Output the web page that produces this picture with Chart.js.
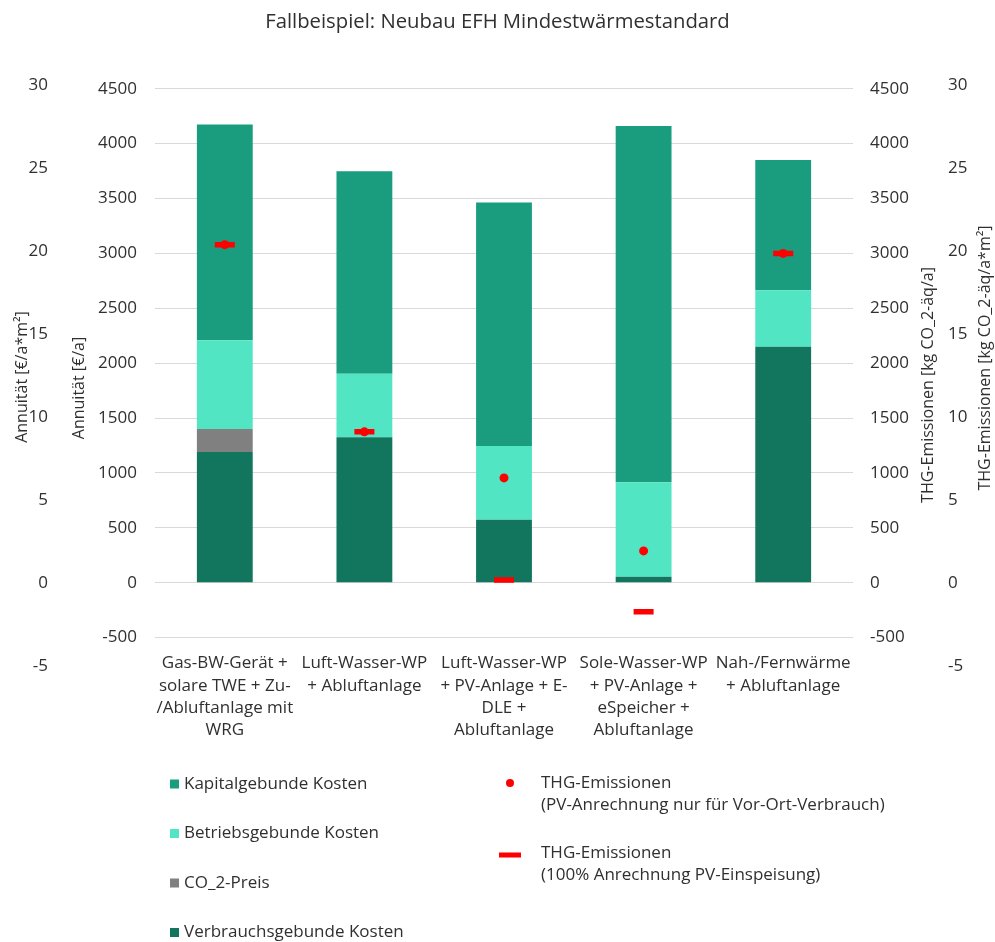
<!DOCTYPE html>
<html lang="de">
<head>
<meta charset="utf-8">
<title>Fallbeispiel: Neubau EFH Mindestwärmestandard</title>
<script src="https://cdn.jsdelivr.net/npm/chart.js@4.4.1/dist/chart.umd.min.js"></script>
<style>
  html, body { margin: 0; padding: 0; background: #fff; }
  #wrap { width: 995px; height: 942px; position: relative; }
</style>
</head>
<body>
<div id="wrap"><canvas id="grafico"></canvas></div>
<script>
// Varianten (x-Achse)
const varianten = [
    ['Gas-BW-Gerät +', 'solare TWE + Zu-', '/Abluftanlage mit', 'WRG'],
    ['Luft-Wasser-WP', '+ Abluftanlage'],
    ['Luft-Wasser-WP', '+ PV-Anlage + E-', 'DLE +', 'Abluftanlage'],
    ['Sole-Wasser-WP', '+ PV-Anlage +', 'eSpeicher +', 'Abluftanlage'],
    ['Nah-/Fernwärme', '+ Abluftanlage']
];

// Annuität [€/a], gestapelt
const verbrauchsgebunden = [1190, 1325, 575, 55, 2150];
const co2Preis = [210, 0, 0, 0, 0];
const betriebsgebunden = [810, 580, 670, 860, 515];
const kapitalgebunden = [1965, 1843, 2220, 3245, 1185];

// THG-Emissionen [kg CO_2-äq/a]
const thgVorOrt = [3080, 1375, 955, 290, 3000];
const thgEinspeisung = [3080, 1375, 25, -265, 3000];

// Achsenbeschriftungen
const ticksAbsolut = [-500, 0, 500, 1000, 1500, 2000, 2500, 3000, 3500, 4000, 4500];
const ticksFlaeche = [-5, 0, 5, 10, 15, 20, 25, 30];

const schrift = 'Open Sans';
const textFarbe = '#303030';

// feste Tickwerte statt der automatisch erzeugten
const fixTicks = values => scale => {
    scale.ticks = values.map(v => ({ value: v }));
};

const tickOpts = (padding) => ({
    color: textFarbe,
    padding: padding,
    font: { family: schrift, size: 17 },
    callback: v => String(v)
});

const ohneGitter = { display: false, drawTicks: false };

// Legende und Achsentitel werden direkt auf die Zeichenfläche geschrieben
const beschriftung = {
    id: 'beschriftung',
    afterDraw(chart) {
        const ctx = chart.ctx;
        const ds = chart.data.datasets;
        ctx.save();
        ctx.fillStyle = textFarbe;
        ctx.textBaseline = 'middle';

        // Achsentitel (senkrecht)
        const titel = [
            ['Annuität [€/a*m²]', 22, 377],
            ['Annuität [€/a]', 79, 388],
            ['THG-Emissionen [kg CO_2-äq/a]', 928, 385],
            ['THG-Emissionen [kg CO_2-äq/a*m²]', 985, 358]
        ];
        ctx.font = '16px "' + schrift + '"';
        ctx.textAlign = 'center';
        titel.forEach(([t, x, y]) => {
            ctx.save();
            ctx.translate(x, y);
            ctx.rotate(-Math.PI / 2);
            ctx.fillText(t, 0, 0);
            ctx.restore();
        });

        // Legende links: Kostenanteile
        ctx.font = '17px "' + schrift + '"';
        ctx.textAlign = 'left';
        const kosten = [3, 2, 1, 0];
        kosten.forEach((i, n) => {
            const y = 784 + n * 49.5;
            ctx.fillStyle = ds[i].backgroundColor;
            ctx.fillRect(170, y - 4.5, 9, 9);
            ctx.fillStyle = textFarbe;
            ctx.fillText(ds[i].label[0], 184, y);
        });

        // Legende rechts: Emissionen
        const punkt = ds[4];
        ctx.fillStyle = punkt.backgroundColor;
        ctx.beginPath();
        ctx.arc(510, 783, 4, 0, Math.PI * 2);
        ctx.fill();
        ctx.fillStyle = textFarbe;
        ctx.fillText(punkt.label[0], 541, 783);
        ctx.fillText(punkt.label[1], 541, 805);

        const strich = ds[5];
        ctx.fillStyle = strich.borderColor;
        ctx.fillRect(499, 852.5, 22, 5);
        ctx.fillStyle = textFarbe;
        ctx.fillText(strich.label[0], 541, 853);
        ctx.fillText(strich.label[1], 541, 875);
        ctx.restore();
    }
};

const balken = (label, data, farbe) => ({
    type: 'bar',
    label: [label],
    data: data,
    backgroundColor: farbe,
    borderWidth: 0,
    yAxisID: 'y',
    order: 2,
    barPercentage: 0.8,
    categoryPercentage: 0.5
});

const canvas = document.getElementById('grafico');
canvas.width = 995;
canvas.height = 942;

new Chart(canvas.getContext('2d'), {
    data: {
        labels: varianten,
        datasets: [
            balken('Verbrauchsgebunde Kosten', verbrauchsgebunden, '#12765E'),
            balken('CO_2-Preis', co2Preis, '#808080'),
            balken('Betriebsgebunde Kosten', betriebsgebunden, '#52E5C3'),
            balken('Kapitalgebunde Kosten', kapitalgebunden, '#1A9D7E'),
            {
                type: 'line',
                label: ['THG-Emissionen', '(PV-Anrechnung nur für Vor-Ort-Verbrauch)'],
                data: thgVorOrt,
                yAxisID: 'yR',
                showLine: false,
                pointStyle: 'circle',
                pointRadius: 4.5,
                pointBorderWidth: 0,
                backgroundColor: '#FF0000',
                borderColor: '#FF0000',
                order: 0
            },
            {
                type: 'line',
                label: ['THG-Emissionen', '(100% Anrechnung PV-Einspeisung)'],
                data: thgEinspeisung,
                yAxisID: 'yR',
                showLine: false,
                pointStyle: 'line',
                pointRadius: 10,
                pointBorderWidth: 5.5,
                backgroundColor: '#FF0000',
                borderColor: '#FF0000',
                order: 1
            }
        ]
    },
    options: {
        responsive: false,
        animation: false,
        layout: { padding: 0 },
        plugins: {
            legend: { display: false },
            tooltip: { enabled: false },
            title: {
                display: true,
                text: 'Fallbeispiel: Neubau EFH Mindestwärmestandard',
                color: textFarbe,
                font: { family: schrift, size: 20.3, weight: 'normal', lineHeight: 1.2 },
                padding: { top: 10, bottom: 51 }
            }
        },
        scales: {
            x: {
                stacked: true,
                grid: ohneGitter,
                border: { display: false },
                ticks: {
                    color: textFarbe,
                    padding: 7,
                    maxRotation: 0,
                    autoSkip: false,
                    font: { family: schrift, size: 17, lineHeight: 1.32 }
                },
                afterFit: s => { s.height = 297; }
            },
            y: {
                position: 'left',
                weight: 0,
                stacked: true,
                min: -567,
                max: 4531,
                grid: { color: '#D9D9D9', lineWidth: 1, drawTicks: false },
                border: { display: false },
                ticks: tickOpts(18),
                afterBuildTicks: fixTicks(ticksAbsolut),
                afterFit: s => { s.width = 95; }
            },
            yL2: {
                position: 'left',
                weight: 1,
                min: -3.735,
                max: 30,
                grid: ohneGitter,
                border: { display: false },
                ticks: tickOpts(12),
                afterBuildTicks: fixTicks(ticksFlaeche),
                afterFit: s => { s.width = 60; }
            },
            yR: {
                position: 'right',
                weight: 0,
                min: -567,
                max: 4531,
                grid: ohneGitter,
                border: { display: false },
                ticks: tickOpts(17),
                afterBuildTicks: fixTicks(ticksAbsolut),
                afterFit: s => { s.width = 83; }
            },
            yR2: {
                position: 'right',
                weight: 1,
                min: -3.735,
                max: 30,
                grid: ohneGitter,
                border: { display: false },
                ticks: tickOpts(12),
                afterBuildTicks: fixTicks(ticksFlaeche),
                afterFit: s => { s.width = 59; }
            }
        }
    },
    plugins: [beschriftung]
});
</script>
</body>
</html>
